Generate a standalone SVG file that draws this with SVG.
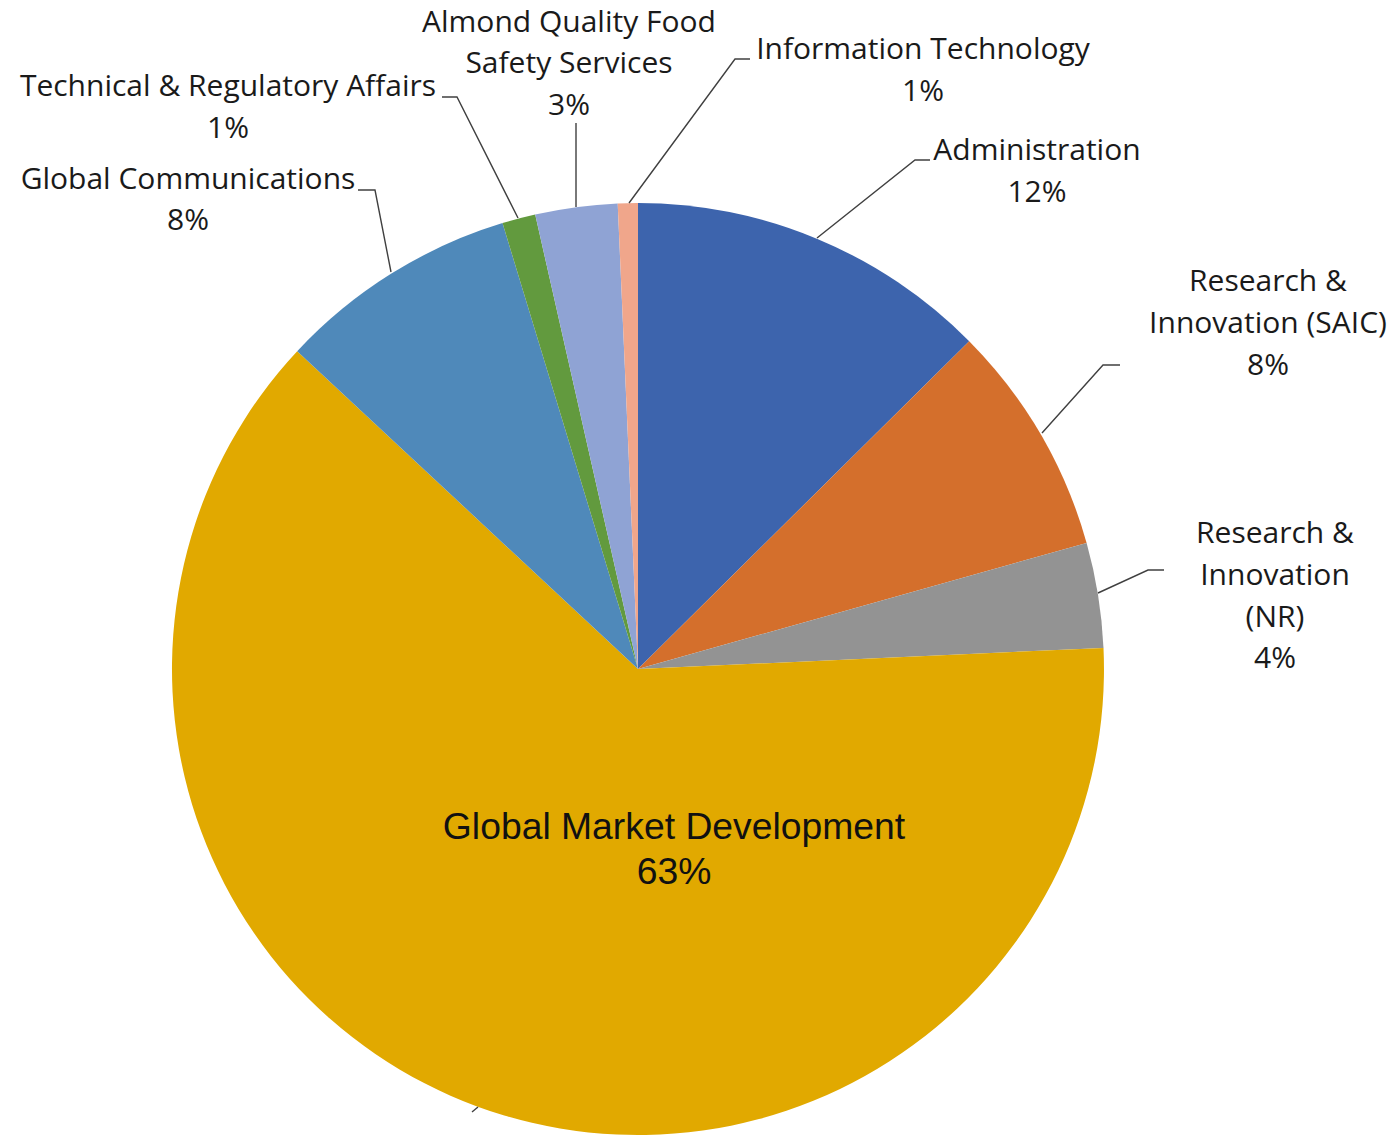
<svg xmlns="http://www.w3.org/2000/svg" width="1396" height="1138" viewBox="0 0 1396 1138">
<style>
.lbl{font-family:"Open Sans","Liberation Sans",sans-serif;font-size:30px;fill:#1a1a1a;text-anchor:middle}
.big{font-family:"Liberation Sans",Arial,sans-serif;font-size:37.3px;fill:#111;text-anchor:middle}
.ld{fill:none;stroke:#404040;stroke-width:1.4}
</style>
<rect width="1396" height="1138" fill="#fff"/>
<g id="slices">
<path id="admin" d="M638,669 L638,203 A466,466 0 0 1 969.2,341.2 Z" fill="#3D64AD"/>
<path id="saic" d="M638,669 L969.2,341.2 A466,466 0 0 1 1086.6,542.9 Z" fill="#D46F2C"/>
<path id="nr" d="M638,669 L1086.6,542.9 A466,466 0 0 1 1103.5,647.9 Z" fill="#939393"/>
<path id="gmd" d="M638,669 L1103.5,647.9 A466,466 0 1 1 297.2,351.2 Z" fill="#E1A900"/>
<path id="gc" d="M638,669 L297.2,351.2 A466,466 0 0 1 502.5,223.1 Z" fill="#4F89BA"/>
<path id="tr" d="M638,669 L502.5,223.1 A466,466 0 0 1 535.2,214.5 Z" fill="#629A3E"/>
<path id="aq" d="M638,669 L535.2,214.5 A466,466 0 0 1 617.7,203.4 Z" fill="#8FA3D4"/>
<path id="it" d="M638,669 L617.7,203.4 A466,466 0 0 1 638,203 Z" fill="#F0A68B"/>
</g>
<g id="connectors">
<polyline class="ld" points="442,97 457,97 518,218"/>
<polyline class="ld" points="358,190 375,190 391,272"/>
<line class="ld" x1="576" y1="123" x2="576" y2="207"/>
<polyline class="ld" points="750,59 735,59 629,203"/>
<polyline class="ld" points="930,160 915,160 817,238"/>
<polyline class="ld" points="1120,365 1103,365 1042,433"/>
<polyline class="ld" points="1164,570 1148,570 1098,593"/>
<line class="ld" x1="472" y1="1112" x2="478" y2="1107"/>
</g>
<g id="label-aq"><text class="lbl" x="569" y="32">Almond Quality Food</text><text class="lbl" x="569" y="73">Safety Services</text><text class="lbl" x="569" y="115">3%</text></g>
<g id="label-tr"><text class="lbl" x="228" y="96">Technical &amp; Regulatory Affairs</text><text class="lbl" x="228" y="138">1%</text></g>
<g id="label-gc"><text class="lbl" x="188" y="189">Global Communications</text><text class="lbl" x="188" y="230">8%</text></g>
<g id="label-it"><text class="lbl" x="923" y="59">Information Technology</text><text class="lbl" x="923" y="101">1%</text></g>
<g id="label-admin"><text class="lbl" x="1037" y="160">Administration</text><text class="lbl" x="1037" y="202">12%</text></g>
<g id="label-saic"><text class="lbl" x="1268" y="291">Research &amp;</text><text class="lbl" x="1268" y="333">Innovation (SAIC)</text><text class="lbl" x="1268" y="375">8%</text></g>
<g id="label-nr"><text class="lbl" x="1275" y="543">Research &amp;</text><text class="lbl" x="1275" y="585">Innovation</text><text class="lbl" x="1275" y="627">(NR)</text><text class="lbl" x="1275" y="668">4%</text></g>
<g id="label-gmd"><text class="big" x="674" y="839">Global Market Development</text><text class="big" x="674" y="884">63%</text></g>
</svg>
